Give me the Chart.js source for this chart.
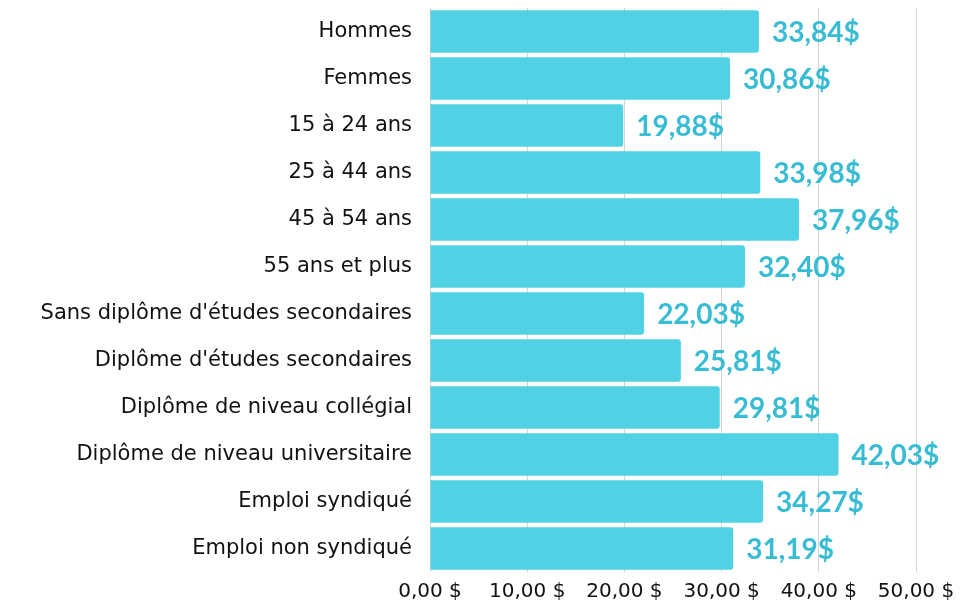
<!DOCTYPE html>
<html>
<head>
<meta charset="utf-8">
<script src="https://cdn.jsdelivr.net/npm/chart.js@4"></script>
<style>
  body { margin: 0; background: #fff; }
  #wrap { width: 970px; height: 605px; }
</style>
</head>
<body>
<div id="wrap"><canvas id="chart"></canvas></div>
<script>
// Catégories et valeurs (salaire horaire moyen)
const categories = [
  "Hommes", "Femmes", "15 à 24 ans", "25 à 44 ans", "45 à 54 ans", "55 ans et plus",
  "Sans diplôme d'études secondaires", "Diplôme d'études secondaires",
  "Diplôme de niveau collégial", "Diplôme de niveau universitaire",
  "Emploi syndiqué", "Emploi non syndiqué"
];
const salaires = [33.84, 30.86, 19.88, 33.98, 37.96, 32.40, 22.03, 25.81, 29.81, 42.03, 34.27, 31.19];
const xTicks = [0, 10, 20, 30, 40, 50];

const fmt = v => v.toFixed(2).replace(".", ",");

// Étiquettes de valeur à droite des barres
const valueLabels = {
  id: "valueLabels",
  afterDatasetsDraw(chart) {
    const ctx = chart.ctx;
    const meta = chart.getDatasetMeta(0);
    ctx.save();
    ctx.font = "bold 28px Lato";
    ctx.fillStyle = "#37bcd4";
    ctx.textAlign = "left";
    ctx.textBaseline = "middle";
    meta.data.forEach((bar, i) => {
      ctx.fillText(fmt(salaires[i]) + "$", bar.x + 13, bar.y + 1);
    });
    ctx.restore();
  }
};

new Chart(document.getElementById("chart"), {
  type: "bar",
  data: {
    labels: categories,
    datasets: [{
      data: salaires,
      backgroundColor: "#50d2e4",
      borderRadius: 3,
      borderSkipped: "start",
      barPercentage: 0.9,
      categoryPercentage: 1.0
    }]
  },
  options: {
    indexAxis: "y",
    responsive: true,
    maintainAspectRatio: false,
    animation: false,
    layout: { padding: { top: 8, right: 54, bottom: 0, left: 0 } },
    plugins: { legend: { display: false }, tooltip: { enabled: false } },
    scales: {
      x: {
        min: 0, max: 50,
        afterBuildTicks: axis => { axis.ticks = xTicks.map(v => ({ value: v })); },
        afterFit: axis => { axis.height = 33; },
        grid: { color: "#d4d4d4", drawTicks: false },
        border: { display: false },
        ticks: {
          color: "#111",
          font: { family: "DejaVu Sans", size: 20 },
          padding: 8,
          maxRotation: 0,
          callback: v => fmt(v) + " $"
        }
      },
      y: {
        grid: { display: false, drawTicks: false },
        border: { display: false },
        afterFit: axis => { axis.paddingTop = 0; axis.paddingBottom = 0; axis.width = 430; },
        ticks: {
          color: "#111",
          font: { family: "DejaVu Sans", size: 21 },
          padding: 18
        }
      }
    }
  },
  plugins: [valueLabels]
});
</script>
</body>
</html>
